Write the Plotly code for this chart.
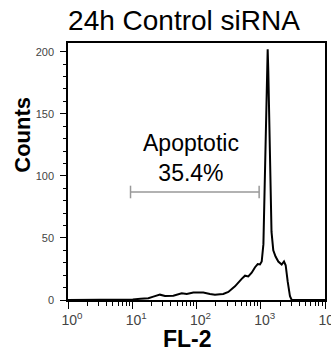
import math
import plotly.graph_objects as go

# FL-2 intensity (log scale) and event counts
fl2 = [1, 6.4, 10.2, 13.5, 17.8, 21.3, 27.0, 32.4, 43.6, 58.9, 70.5, 89.3, 127.6, 162, 194,
       232, 261, 313, 397, 505, 569, 640, 723, 815, 897, 973, 1035, 1100, 1150, 1200,
       1250, 1282, 1310, 1360, 1410, 1470, 1567, 1700, 1875, 2118, 2301, 2443, 2624, 2851,
       3034, 4083, 10000]
counts = [0, 0, 0.5, 1, 1.4, 2.7, 4.3, 3.3, 3.5, 5.4, 4.9, 6, 6, 4.9, 4.3,
          4.7, 4.9, 6.5, 11, 17, 19.6, 19, 22, 26.4, 29, 28.6, 31, 45, 90, 150,
          190, 202, 185, 130, 80, 55, 40, 35, 31, 28.6, 31, 28, 15, 3,
          0, 0, 0]

# Apoptotic gate
gate_x = [9.4, 944]
gate_y = [87, 87]
gate_label = "Apoptotic<br>35.4%"
gate_label_x = 83
gate_label_y = 114

title = "24h Control siRNA"
x_title = "FL-2"
y_title = "Counts"

x_major = [1, 10, 100, 1000, 10000]
x_major_text = ["10<sup>0</sup>", "10<sup>1</sup>", "10<sup>2</sup>", "10<sup>3</sup>", "10<sup>4</sup>"]
x_minor = [m * d for d in [1, 10, 100, 1000] for m in range(2, 10)]
y_major = [0, 50, 100, 150, 200]
y_minor = [v for v in range(0, 210, 10) if v % 50 != 0]

FONT = "Liberation Sans, Arial, sans-serif"

fig = go.Figure()
fig.add_trace(go.Scatter(x=fl2, y=counts, mode="lines",
                         line=dict(color="black", width=2), hoverinfo="skip"))
fig.add_trace(go.Scatter(x=gate_x, y=gate_y, mode="lines+markers",
                         line=dict(color="#999999", width=1.5),
                         marker=dict(symbol="line-ns-open", size=9,
                                     line=dict(color="#999999", width=1.5)),
                         hoverinfo="skip"))

fig.update_layout(
    width=331, height=353,
    margin=dict(l=68, r=6, t=43, b=53),
    paper_bgcolor="white", plot_bgcolor="white",
    showlegend=False,
    font=dict(family=FONT, color="black"),
    title=dict(text=title, x=184/331, xref="container", xanchor="center",
               y=1-20/353, yref="container", yanchor="middle",
               font=dict(size=28, family=FONT, color="black")),
    xaxis=dict(type="log", range=[0, 4], showgrid=False, zeroline=False, automargin=False,
               showline=True, linecolor="black", linewidth=1.5, mirror=True,
               tickmode="array", tickvals=x_major, ticktext=x_major_text,
               ticks="outside", ticklen=7, tickwidth=1.2, tickcolor="black",
               ticklabelshift=4, ticklabelstandoff=-1, ticklabeloverflow="allow",
               tickfont=dict(size=14, color="#444444", family=FONT),
               minor=dict(tickmode="array", tickvals=x_minor, ticks="outside",
                          ticklen=4, tickwidth=1, tickcolor="black", showgrid=False)),
    yaxis=dict(range=[0, 207], showgrid=False, zeroline=False, automargin=False,
               showline=True, linecolor="black", linewidth=1.5, mirror=True,
               tickmode="array", tickvals=y_major,
               ticks="outside", ticklen=6, tickwidth=1.2, tickcolor="black",
               ticklabelstandoff=4,
               tickfont=dict(size=11, color="#444444", family=FONT),
               minor=dict(tickmode="array", tickvals=y_minor, ticks="outside",
                          ticklen=3, tickwidth=1, tickcolor="black", showgrid=False)),
    annotations=[
        dict(text=gate_label, x=math.log10(gate_label_x), y=gate_label_y,
             xref="x", yref="y", showarrow=False, xanchor="center", yanchor="middle",
             font=dict(size=23, family=FONT, color="black")),
        dict(text="<b>" + y_title + "</b>", x=-0.178, y=0.644, xref="paper", yref="paper",
             textangle=-90, showarrow=False, xanchor="center", yanchor="middle",
             font=dict(size=22, family=FONT, color="black")),
        dict(text="<b>" + x_title + "</b>", x=0.466, y=-0.15, xref="paper", yref="paper",
             showarrow=False, xanchor="center", yanchor="middle",
             font=dict(size=23, family=FONT, color="black")),
    ],
)

fig.write_html("out.html", config={"displayModeBar": False},
               post_script="document.body.style.margin='0';document.body.style.overflow='hidden';")
